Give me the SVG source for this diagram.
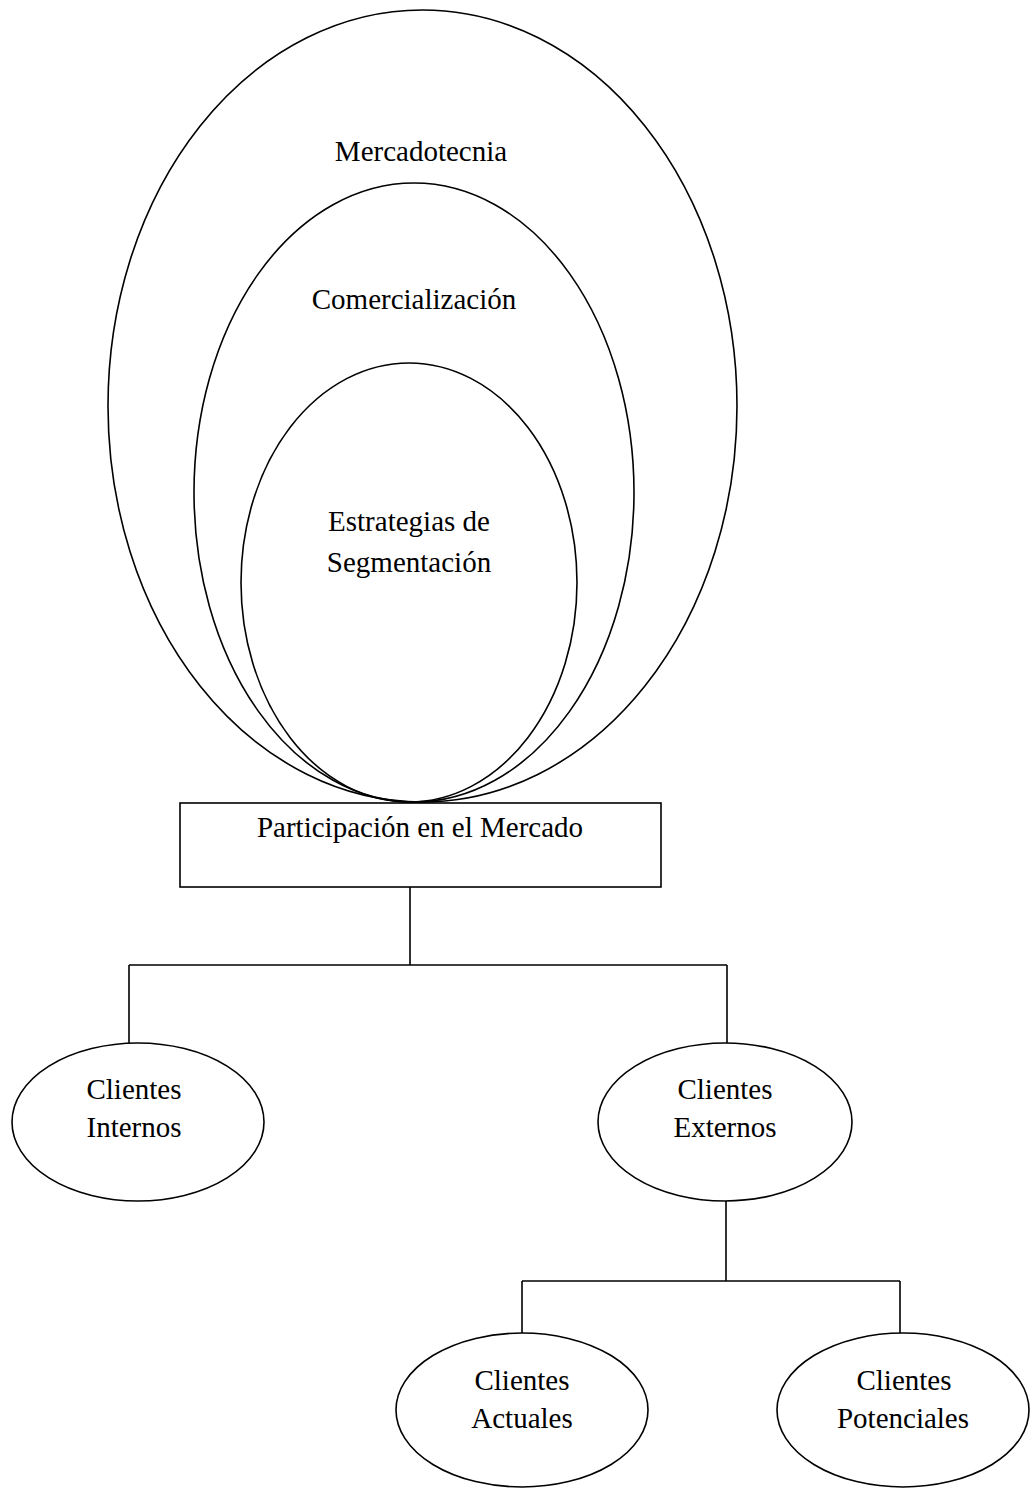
<svg xmlns="http://www.w3.org/2000/svg" width="1031" height="1488" viewBox="0 0 1031 1488">
  <style>
    .shape { fill: none; stroke: #000; stroke-width: 1.6; }
    .link { fill: none; stroke: #000; stroke-width: 1.6; }
    .label { font-family: "Liberation Serif", "Times New Roman", serif; font-size: 29px; fill: #000; text-anchor: middle; }
  </style>
  <rect width="1031" height="1488" fill="#fff"/>

  <!-- nested ellipses resting on the box -->
  <g id="mercadotecnia">
    <ellipse class="shape" cx="422.5" cy="406" rx="314.5" ry="396"/>
    <text class="label" x="421" y="161">Mercadotecnia</text>
  </g>
  <g id="comercializacion">
    <ellipse class="shape" cx="414" cy="492.5" rx="220" ry="309.5"/>
    <text class="label" x="414" y="309">Comercialización</text>
  </g>
  <g id="estrategias">
    <ellipse class="shape" cx="409" cy="582.5" rx="168" ry="219.5"/>
    <text class="label" x="409" y="531">Estrategias de</text>
    <text class="label" x="409" y="572">Segmentación</text>
  </g>

  <g id="participacion">
    <rect class="shape" x="180" y="803" width="481" height="84"/>
    <text class="label" x="420" y="837">Participación en el Mercado</text>
  </g>

  <!-- connectors -->
  <g id="connectors">
    <path class="link" d="M410 887 V965 M129 965 H727 M129 965 V1043 M727 965 V1043"/>
    <path class="link" d="M726 1201 V1281 M522 1281 H900 M522 1281 V1333 M900 1281 V1333"/>
  </g>

  <g id="clientes-internos">
    <ellipse class="shape" cx="138" cy="1122" rx="126" ry="79"/>
    <text class="label" x="134" y="1099">Clientes</text>
    <text class="label" x="134" y="1137">Internos</text>
  </g>
  <g id="clientes-externos">
    <ellipse class="shape" cx="725" cy="1122" rx="127" ry="79"/>
    <text class="label" x="725" y="1099">Clientes</text>
    <text class="label" x="725" y="1137">Externos</text>
  </g>
  <g id="clientes-actuales">
    <ellipse class="shape" cx="522" cy="1410" rx="126" ry="77"/>
    <text class="label" x="522" y="1390">Clientes</text>
    <text class="label" x="522" y="1428">Actuales</text>
  </g>
  <g id="clientes-potenciales">
    <ellipse class="shape" cx="903" cy="1410" rx="126" ry="77"/>
    <text class="label" x="904" y="1390">Clientes</text>
    <text class="label" x="903" y="1428">Potenciales</text>
  </g>
</svg>
